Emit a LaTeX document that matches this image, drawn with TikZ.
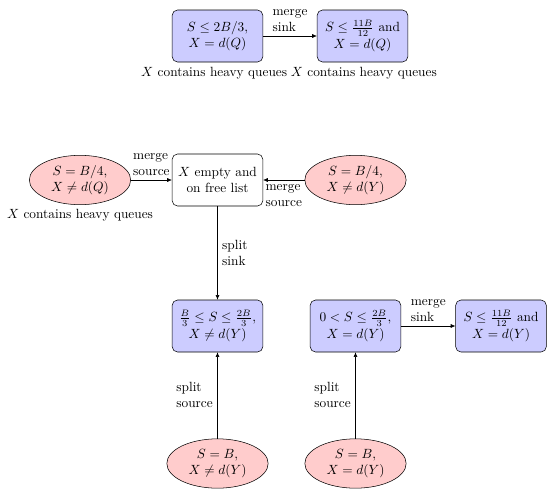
\documentclass[tikz,border=0pt]{standalone}
\usetikzlibrary{shapes.geometric,arrows.meta}
\begin{document}
\begin{tikzpicture}[x=0.75pt,y=-0.75pt,
  statebox/.style={draw,rounded corners=4pt,fill=blue!20,minimum width=68pt,minimum height=39pt,align=center,inner sep=2pt},
  plainbox/.style={statebox,fill=white},
  stateell/.style={draw,ellipse,fill=red!20,minimum width=76pt,minimum height=37pt,align=center,inner sep=1pt},
  conn/.style={-{Latex[length=3.5pt,width=3pt]}},
  lbl/.style={align=left}]
\useasboundingbox (0,0) rectangle (553,496);
% top row
\node[statebox] (a) at (217.5,36) {$S\le 2B/3$,\\ $X=d(Q)$};
\node[statebox] (b) at (362.5,36) {$S\le \frac{11B}{12}$ and\\[1pt] $X=d(Q)$};
\node[anchor=north,xshift=-2.5pt] (la) at (a.south) {$X$ contains heavy queues};
\node[anchor=north,xshift=1pt] (lb) at (b.south) {$X$ contains heavy queues};
\draw[conn] (a) -- node[lbl,above] {merge\\sink} (b);
% middle row
\node[stateell] (e1) at (80,180) {$S=B/4$,\\ $X\ne d(Q)$};
\node[plainbox] (f) at (217.5,180) {$X$ empty and\\ on free list};
\node[stateell] (e2) at (355.5,180) {$S=B/4$,\\ $X\ne d(Y)$};
\node[anchor=north] (le1) at (e1.south) {$X$ contains heavy queues};
\draw[conn] (e1) -- node[lbl,above] {merge\\source} (f);
\draw[conn] (e2) -- node[lbl,below] {merge\\source} (f);
% lower row
\node[statebox] (c) at (217.5,326) {$\frac{B}{3}\le S\le\frac{2B}{3}$,\\[1pt] $X\ne d(Y)$};
\node[statebox] (d) at (355.5,326) {$0<S\le\frac{2B}{3}$,\\[1pt] $X=d(Y)$};
\node[statebox] (g) at (501,326) {$S\le \frac{11B}{12}$ and\\[1pt] $X=d(Y)$};
\draw[conn] (f) -- node[lbl,right] {split\\sink} (c);
\draw[conn] (d) -- node[lbl,above] {merge\\sink} (g);
% bottom row
\node[stateell] (h1) at (217.5,463.5) {$S=B$,\\ $X\ne d(Y)$};
\node[stateell] (h2) at (355.5,463.5) {$S=B$,\\ $X=d(Y)$};
\draw[conn] (h1) -- node[lbl,left] {split\\source} (c);
\draw[conn] (h2) -- node[lbl,left] {split\\source} (d);
\end{tikzpicture}
\end{document}
